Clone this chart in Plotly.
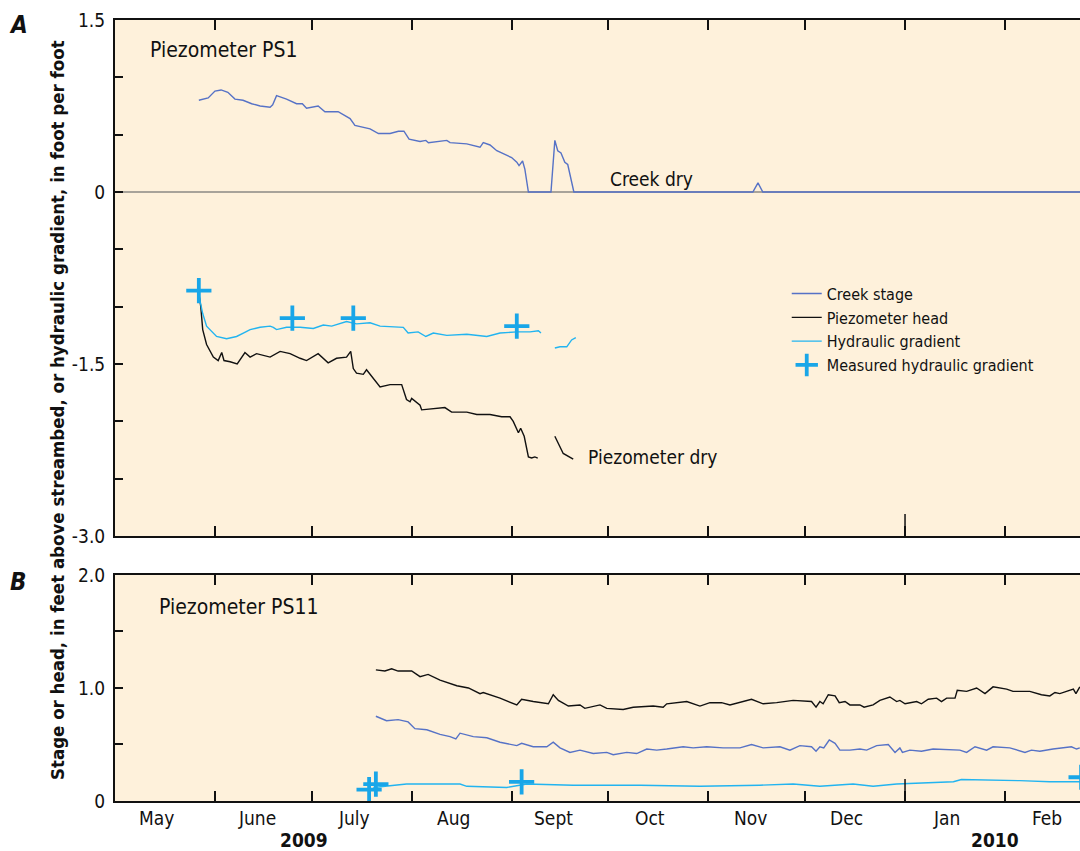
import numpy as np
import pandas as pd
import plotly.graph_objects as go

# Days are counted from the start of the record, 2009-05-01
BASE = pd.Timestamp("2009-05-01")

# ---- Piezometer PS1 ----
ps1_creek_day = [26.0, 28.9, 31.0, 32.9, 35.0, 37.2, 39.7, 42.4, 45.0, 48.1, 48.9, 50.1,
                 53.2, 56.3, 58.1, 59.4, 63.0, 65.1, 69.2, 72.9, 74.4, 79.1, 81.7, 85.3,
                 87.9, 89.6, 91.2, 94.6, 96.4, 97.2, 102.9, 103.9, 109.1, 113.2, 114.2,
                 116.3, 118.4, 121.0, 123.0, 124.6, 125.3, 126.4, 127.1, 128.2, 135.2,
                 136.4, 137.3, 138.3, 139.5, 140.4, 141.3, 142.3, 197.8, 199.4, 200.9, 299.3]
ps1_creek_val = [0.80, 0.82, 0.88, 0.89, 0.87, 0.81, 0.80, 0.77, 0.75, 0.74, 0.76, 0.84,
                 0.81, 0.77, 0.77, 0.73, 0.75, 0.70, 0.70, 0.64, 0.58, 0.55, 0.51, 0.51,
                 0.53, 0.53, 0.46, 0.44, 0.45, 0.43, 0.45, 0.43, 0.42, 0.39, 0.43,
                 0.41, 0.36, 0.33, 0.30, 0.26, 0.23, 0.27, 0.20, 0.0, 0.0,
                 0.45, 0.36, 0.34, 0.26, 0.24, 0.13, 0.0, 0.0, 0.08, 0.0, 0.0]

ps1_head_day = [26.0, 26.6, 27.2, 28.4, 30.5, 32.0, 33.1, 33.8, 35.7, 37.9, 40.3, 41.9,
                43.9, 48.1, 51.2, 54.3, 57.4, 59.4, 63.0, 66.1, 68.7, 71.8, 73.1, 73.9,
                74.9, 77.0, 78.0, 79.6, 82.2, 85.3, 88.9, 90.4, 91.5, 92.0, 94.6, 95.1,
                98.7, 102.3, 104.4, 109.1, 112.2, 116.3, 119.9, 122.5, 123.5, 125.1,
                125.8, 126.9, 128.2, 129.2, 130.2, 131.1, 133.5, 136.4, 139.0, 142.1]
ps1_head_val = [-0.88, -1.00, -1.20, -1.33, -1.44, -1.47, -1.40, -1.47, -1.48, -1.50, -1.40, -1.44,
                -1.41, -1.44, -1.39, -1.41, -1.45, -1.47, -1.41, -1.49, -1.45, -1.44, -1.39, -1.54,
                -1.58, -1.59, -1.55, -1.61, -1.70, -1.68, -1.68, -1.81, -1.83, -1.80, -1.86, -1.90,
                -1.89, -1.88, -1.92, -1.92, -1.94, -1.94, -1.96, -1.96, -2.00, -2.10,
                -2.06, -2.13, -2.31, -2.32, -2.31, -2.32, None, -2.13, -2.28, -2.33]

ps1_grad_day = [26.0, 27.2, 28.4, 31.5, 34.6, 37.7, 39.8, 41.9, 45.0, 48.1, 49.1, 50.1,
                53.2, 57.4, 61.5, 64.6, 67.2, 71.8, 74.9, 79.1, 82.2, 89.4, 90.9, 94.0,
                96.4, 98.7, 102.9, 109.1, 115.3, 119.4, 124.6, 128.7, 131.3, 132.1,
                134.0, 136.4, 138.0, 140.1, 141.6, 142.9]
ps1_grad_val = [-0.90, -1.06, -1.17, -1.26, -1.28, -1.26, -1.23, -1.20, -1.18, -1.17, -1.18, -1.20,
                -1.18, -1.18, -1.19, -1.16, -1.17, -1.13, -1.15, -1.14, -1.17, -1.18, -1.23, -1.22,
                -1.26, -1.23, -1.25, -1.24, -1.26, -1.23, -1.22, -1.22, -1.21, -1.23,
                None, -1.36, -1.35, -1.35, -1.29, -1.27]

ps1_meas_day = [26.0, 55.0, 73.9, 124.6]
ps1_meas_val = [-0.86, -1.10, -1.10, -1.17]

# ---- Piezometer PS11 ----
ps11_head_day = [80.9, 83.7, 85.8, 87.8, 90.4, 92.0, 94.6, 97.1, 100.8, 106.0, 109.6, 113.2,
                 114.2, 119.4, 124.6, 126.1, 129.7, 134.4, 135.9, 137.5, 140.6, 144.2, 145.7,
                 150.4, 152.5, 157.6, 160.7, 166.9, 170.0, 171.1, 177.3, 181.4, 184.5, 188.1,
                 190.7, 197.4, 201.0, 205.2, 210.3, 216.0, 217.4, 218.6, 219.6, 221.2, 223.3,
                 224.6, 226.4, 227.9, 231.0, 232.3, 235.1, 237.2, 240.3, 242.4, 243.4, 245.0,
                 248.6, 250.1, 252.2, 254.8, 256.3, 257.9, 260.5, 261.2, 264.1, 267.2, 269.8,
                 272.3, 276.5, 278.5, 283.7, 287.3, 289.9, 291.5, 293.0, 297.2, 298.0, 299.2]
ps11_head_val = [1.16, 1.15, 1.17, 1.15, 1.15, 1.15, 1.10, 1.12, 1.07, 1.02, 1.00, 0.95,
                 0.96, 0.91, 0.85, 0.90, 0.88, 0.86, 0.94, 0.89, 0.84, 0.85, 0.82,
                 0.85, 0.82, 0.81, 0.83, 0.84, 0.83, 0.86, 0.88, 0.84, 0.87, 0.87,
                 0.85, 0.90, 0.86, 0.87, 0.89, 0.88, 0.83, 0.88, 0.86, 0.94, 0.93,
                 0.87, 0.88, 0.85, 0.85, 0.83, 0.85, 0.89, 0.92, 0.88, 0.89, 0.86,
                 0.88, 0.86, 0.90, 0.91, 0.88, 0.91, 0.91, 0.98, 0.97, 1.00, 0.95,
                 1.01, 0.99, 0.97, 0.97, 0.94, 0.93, 0.96, 0.95, 0.99, 0.95, 1.01]

ps11_creek_day = [80.9, 84.2, 87.8, 90.9, 93.0, 96.7, 100.8, 103.9, 105.7, 107.0, 111.1, 115.3,
                  119.4, 124.6, 126.1, 129.7, 133.9, 135.9, 138.0, 141.1, 144.2, 148.3, 152.5,
                  154.5, 158.7, 161.8, 164.9, 168.0, 171.1, 176.2, 179.3, 183.5, 188.6, 193.8,
                  197.4, 201.0, 206.2, 209.3, 212.4, 216.0, 217.4, 218.6, 219.8, 221.5, 223.3,
                  224.8, 227.9, 231.0, 233.1, 236.2, 239.8, 241.9, 243.4, 244.2, 246.5, 250.1,
                  253.7, 259.4, 262.0, 264.1, 266.7, 270.3, 272.3, 277.5, 282.2, 284.2, 286.8,
                  290.9, 296.6, 298.2, 299.2]
ps11_creek_val = [0.75, 0.71, 0.72, 0.70, 0.64, 0.63, 0.59, 0.57, 0.55, 0.60, 0.57, 0.56,
                  0.52, 0.49, 0.51, 0.48, 0.48, 0.52, 0.47, 0.43, 0.45, 0.42, 0.43,
                  0.41, 0.43, 0.42, 0.46, 0.45, 0.46, 0.48, 0.47, 0.48, 0.47, 0.47,
                  0.50, 0.47, 0.48, 0.45, 0.49, 0.48, 0.44, 0.48, 0.47, 0.54, 0.51,
                  0.45, 0.45, 0.46, 0.45, 0.49, 0.50, 0.43, 0.47, 0.43, 0.45, 0.44,
                  0.46, 0.45, 0.45, 0.43, 0.48, 0.45, 0.48, 0.47, 0.43, 0.45, 0.44,
                  0.46, 0.48, 0.46, 0.47]

ps11_grad_day = [80.1, 83.2, 90.4, 97.7, 107.0, 109.1, 121.5, 127.7, 142.1, 162.8, 181.4,
                 200.0, 210.3, 218.6, 228.9, 235.1, 242.4, 260.0, 262.5, 280.6, 289.9, 299.2]
ps11_grad_val = [0.12, 0.13, 0.15, 0.15, 0.15, 0.13, 0.12, 0.15, 0.14, 0.14, 0.13,
                 0.14, 0.15, 0.13, 0.15, 0.13, 0.15, 0.17, 0.19, 0.18, 0.17, 0.17]

ps11_meas_day = [78.8, 80.9, 126.1, 299.6]
ps11_meas_val = [0.10, 0.15, 0.17, 0.21]

# ---- Axis labelling ----
month_names = ["May", "June", "July", "Aug", "Sept", "Oct", "Nov", "Dec", "Jan", "Feb"]
month_starts = pd.date_range("2009-05-01", "2010-02-01", freq="MS")
ps1_ticks = [-3.0, -2.5, -2.0, -1.5, -1.0, -0.5, 0.0, 0.5, 1.0, 1.5]
ps1_ticktext = ["-3.0", "", "", "-1.5", "", "", "0", "", "", "1.5"]
ps11_ticks = [0.0, 0.5, 1.0, 1.5, 2.0]
ps11_ticktext = ["0", "", "1.0", "", "2.0"]

C_CREEK = "#5672C6"
C_HEAD = "#111111"
C_GRAD = "#22B4F0"
C_MEAS = "#19A6E8"
BG = "#FEF1DB"
FONT = "Liberation Sans Narrow, DejaVu Sans Condensed, Arial Narrow, sans-serif"


def to_dates(days):
    return BASE + pd.to_timedelta(np.asarray(days, dtype=float), unit="D")


def vals(v):
    return [np.nan if a is None else a for a in v]


fig = go.Figure()

# Panel A traces
fig.add_trace(go.Scatter(x=to_dates(ps1_creek_day), y=vals(ps1_creek_val), mode="lines",
                         line=dict(color=C_CREEK, width=1.4), name="Creek stage",
                         xaxis="x", yaxis="y", legendrank=1))
fig.add_trace(go.Scatter(x=to_dates(ps1_head_day), y=vals(ps1_head_val), mode="lines",
                         line=dict(color=C_HEAD, width=1.4), name="Piezometer head",
                         xaxis="x", yaxis="y", legendrank=2))
fig.add_trace(go.Scatter(x=to_dates(ps1_grad_day), y=vals(ps1_grad_val), mode="lines",
                         line=dict(color=C_GRAD, width=1.4), name="Hydraulic gradient",
                         xaxis="x", yaxis="y", legendrank=3))
fig.add_trace(go.Scatter(x=to_dates(ps1_meas_day), y=ps1_meas_val, mode="markers",
                         marker=dict(symbol="cross-thin", size=18,
                                     line=dict(color=C_MEAS, width=3.8)),
                         name="Measured hydraulic gradient",
                         xaxis="x", yaxis="y", legendrank=4))

# Panel B traces
fig.add_trace(go.Scatter(x=to_dates(ps11_head_day), y=ps11_head_val, mode="lines",
                         line=dict(color=C_HEAD, width=1.4), showlegend=False,
                         xaxis="x2", yaxis="y2"))
fig.add_trace(go.Scatter(x=to_dates(ps11_creek_day), y=ps11_creek_val, mode="lines",
                         line=dict(color=C_CREEK, width=1.4), showlegend=False,
                         xaxis="x2", yaxis="y2"))
fig.add_trace(go.Scatter(x=to_dates(ps11_grad_day), y=ps11_grad_val, mode="lines",
                         line=dict(color=C_GRAD, width=1.4), showlegend=False,
                         xaxis="x2", yaxis="y2"))
fig.add_trace(go.Scatter(x=to_dates(ps11_meas_day), y=ps11_meas_val, mode="markers",
                         marker=dict(symbol="cross-thin", size=18,
                                     line=dict(color=C_MEAS, width=3.8)),
                         showlegend=False, xaxis="x2", yaxis="y2"))

x_range = [BASE, BASE + pd.Timedelta(days=299.26)]
tick_font = dict(family=FONT, size=19, color="#111")

xcommon = dict(type="date", range=x_range, tickvals=month_starts[1:], ticks="inside",
               ticklen=10, tickwidth=1.5, tickcolor="#111", showgrid=False,
               zeroline=False, showline=True, linecolor="#111", linewidth=2,
               mirror="ticks", showticklabels=False)

# month names sit near the middle of each month
mid_month = month_starts + pd.Timedelta(days=13)

fig.update_layout(
    width=1080, height=851,
    margin=dict(l=115, r=0, t=20, b=50),
    paper_bgcolor="white", plot_bgcolor=BG,
    font=dict(family=FONT, size=19, color="#111"),
    xaxis=dict(anchor="y", **xcommon),
    xaxis2=dict(anchor="y2", matches="x", **xcommon),
    yaxis=dict(domain=[0.3393, 1.0], range=[-3.0, 1.5], tickvals=ps1_ticks,
               ticktext=ps1_ticktext, ticks="inside", ticklen=8, tickwidth=1.5,
               tickcolor="#111", showgrid=False, showline=True, linecolor="#111",
               linewidth=2, zeroline=True, zerolinecolor="#A8A39A", zerolinewidth=2,
               tickfont=tick_font, ticklabelstandoff=4),
    yaxis2=dict(domain=[0.0, 0.2894], range=[0.0, 2.0], tickvals=ps11_ticks,
                ticktext=ps11_ticktext, ticks="inside", ticklen=8, tickwidth=1.5,
                tickcolor="#111", showgrid=False, showline=True, linecolor="#111",
                linewidth=2, zeroline=False, tickfont=tick_font, ticklabelstandoff=4),
    legend=dict(x=0.6961, y=0.6714, xanchor="left", yanchor="top",
                bgcolor="rgba(0,0,0,0)", font=dict(family=FONT, size=16, color="#111"),
                tracegroupgap=0, itemwidth=30),
)

# Longer tick marking the start of the new year
for yref, frac in (("y domain", 22 / 516), ("y2 domain", 22 / 226)):
    fig.add_shape(type="line", xref="x", yref=yref, x0="2010-01-01", x1="2010-01-01",
                  y0=0, y1=frac, line=dict(color="#111", width=1.5))

ann = [
    dict(text="Piezometer PS1", xref="x domain", yref="y domain", x=0.034, y=0.942,
         xanchor="left", yanchor="middle", font=dict(size=21)),
    dict(text="Creek dry", xref="x domain", yref="y domain", x=0.511, y=0.692,
         xanchor="left", yanchor="middle", font=dict(size=19)),
    dict(text="Piezometer dry", xref="x domain", yref="y domain", x=0.488, y=0.153,
         xanchor="left", yanchor="middle", font=dict(size=19)),
    dict(text="Piezometer PS11", xref="x2 domain", yref="y2 domain", x=0.0435, y=0.858,
         xanchor="left", yanchor="middle", font=dict(size=21)),
    dict(text="<b><i>A</i></b>", xref="paper", yref="paper", x=-0.1005, y=0.9936,
         xanchor="center", yanchor="middle", font=dict(size=24)),
    dict(text="<b><i>B</i></b>", xref="paper", yref="paper", x=-0.1005, y=0.2804,
         xanchor="center", yanchor="middle", font=dict(size=24)),
    dict(text="<b>2009</b>", xref="paper", yref="paper", x=0.1959, y=-0.0499,
         xanchor="center", yanchor="middle", font=dict(size=19)),
    dict(text="<b>2010</b>", xref="paper", yref="paper", x=0.9119, y=-0.0499,
         xanchor="center", yanchor="middle", font=dict(size=19)),
    dict(text="<b>Stage or head, in feet above streambed, or hydraulic gradient, in foot per foot</b>",
         xref="paper", yref="paper", x=-0.0601, y=0.5006, textangle=-90,
         xanchor="center", yanchor="middle", font=dict(size=18.5)),
]
for name, when in zip(month_names, mid_month):
    ann.append(dict(text=name, xref="x2", yref="paper", x=when, y=-0.0218,
                    xanchor="center", yanchor="middle", font=dict(size=19)))
for a in ann:
    a.setdefault("showarrow", False)
    fig.add_annotation(**a)

fig.write_html("out.html")
